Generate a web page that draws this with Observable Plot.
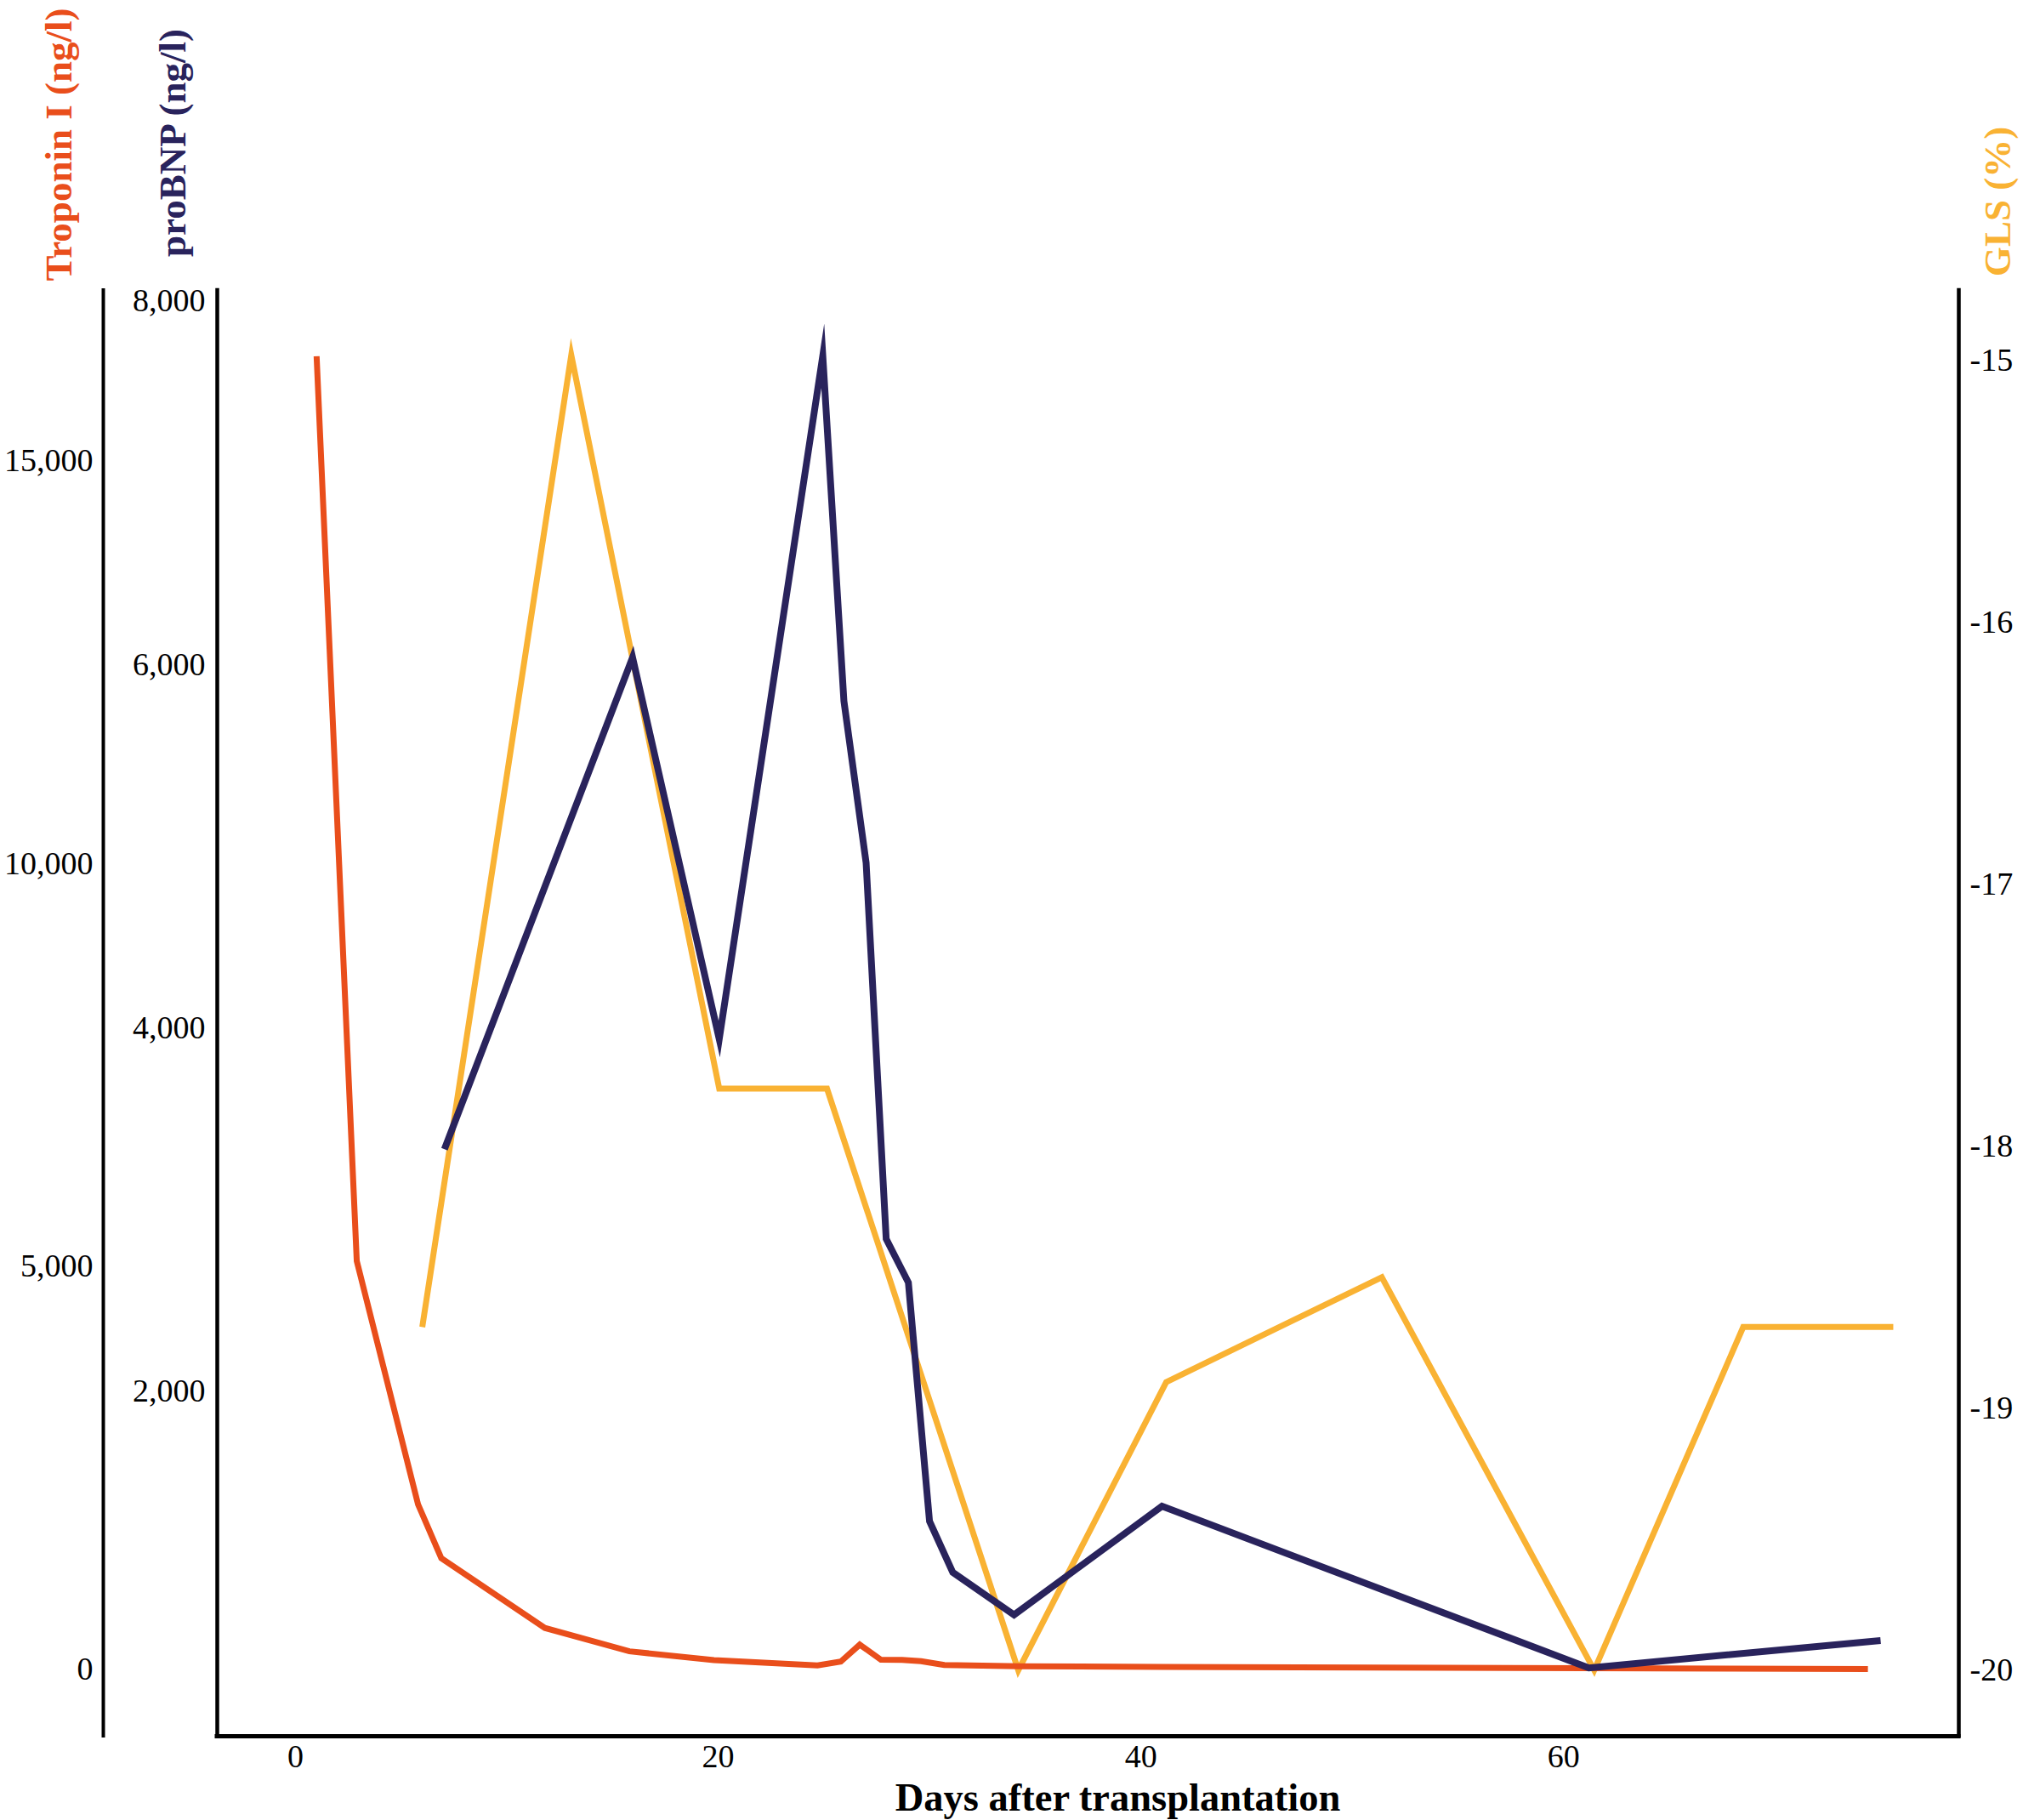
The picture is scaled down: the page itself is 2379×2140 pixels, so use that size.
<!DOCTYPE html>
<html>
<head>
<meta charset="utf-8">
<script src="https://cdn.jsdelivr.net/npm/d3@7"></script>
<script src="https://cdn.jsdelivr.net/npm/@observablehq/plot@0.6"></script>
<style>
  html, body { margin: 0; padding: 0; background: #ffffff; }
  #chart svg { display: block; }
</style>
</head>
<body>
<div id="chart"></div>
<script>
// ---- Data ----
const troponinDays   = [1, 2.9, 5.8, 6.9, 11.8, 15.8, 19.8, 24.7, 25.8, 26.7, 27.7, 28.7, 29.6, 30.7, 34.3, 41, 51, 61, 68, 74.4];
const troponinValues = [16300, 5070, 2050, 1380, 515, 225, 116, 50, 97, 308, 121, 118, 103, 55, 38, 32, 24, 16, 10, 5];

const probnpDays   = [7.05, 15.95, 20.05, 24.95, 25.95, 27.0, 27.95, 29.0, 30.0, 31.1, 34.0, 41.0, 61.2, 75.0];
const probnpValues = [3334, 6040, 3940, 7700, 5800, 4910, 2840, 2600, 1286, 1005, 771, 1369, 479, 630];

const glsDays   = [6, 13.05, 20.05, 25.15, 34.2, 41.2, 51.4, 61.45, 68.5, 75.6];
const glsValues = [-18.69, -14.98, -17.78, -17.78, -20, -18.9, -18.5, -20, -18.69, -18.69];

const xTicks        = [0, 20, 40, 60];
const troponinTicks = [0, 5000, 10000, 15000];
const probnpTicks   = [2000, 4000, 6000, 8000];
const glsTicks      = [-15, -16, -17, -18, -19, -20];

// ---- Scales ----
const xDomain    = [-3.7, 78.7];
const tropDomain = [-829, 17117];      // primary y scale (Troponin I)
const proDomain  = [103, 8060];        // proBNP over the same pixel range
const glsDomain  = [-20.252, -14.733]; // GLS over the same pixel range

const proToY = d3.scaleLinear().domain(proDomain).range(tropDomain);
const glsToY = d3.scaleLinear().domain(glsDomain).range(tropDomain);

const colors = { troponin: "#E94E1B", probnp: "#29235C", gls: "#F9B233" };

const troponin = troponinDays.map((d, i) => ({ day: d, v: troponinValues[i] }));
const probnp   = probnpDays.map((d, i) => ({ day: d, v: probnpValues[i] }));
const gls      = glsDays.map((d, i) => ({ day: d, v: glsValues[i] }));

const comma = d3.format(",");
const lineStyle = { strokeLinejoin: "miter", strokeMiterlimit: 10, strokeLinecap: "butt" };
const titleStyle = { fontSize: 45, fontWeight: "bold", textAnchor: "middle", lineAnchor: "middle" };

const chart = Plot.plot({
  width: 2379,
  height: 2140,
  marginLeft: 255,
  marginRight: 76,
  marginTop: 341,
  marginBottom: 99,
  style: {
    fontFamily: '"Liberation Serif", "Times New Roman", serif',
    fontSize: "38px",
    background: "#ffffff",
    color: "#000000"
  },
  x: { domain: xDomain, axis: null },
  y: { domain: tropDomain, axis: null },
  marks: [
    // frame: left, right and bottom lines
    Plot.ruleX(xDomain, { stroke: "#000", strokeWidth: 4.5, strokeLinecap: "square" }),
    Plot.ruleY([tropDomain[0]], { stroke: "#000", strokeWidth: 5, strokeLinecap: "square" }),
    // separate troponin axis line
    Plot.ruleX([xDomain[0]], { dx: -134, stroke: "#000", strokeWidth: 4, strokeLinecap: "square" }),

    // axes
    Plot.axisX(xTicks, { tickSize: 0, tickPadding: 10, tickFormat: d => String(d), label: null, fontSize: 38 }),
    Plot.axisY(troponinTicks, {
      anchor: "left", dx: -134, tickSize: 0, tickPadding: 12,
      tickFormat: d => comma(d), label: null, fontSize: 38
    }),
    Plot.axisY(probnpTicks.map(t => proToY(t)), {
      anchor: "left", tickSize: 0, tickPadding: 14,
      tickFormat: d => comma(Math.round(proToY.invert(d))), label: null, fontSize: 38
    }),
    Plot.axisY(glsTicks.map(t => glsToY(t)), {
      anchor: "right", tickSize: 0, tickPadding: 13,
      tickFormat: d => String(Math.round(glsToY.invert(d))), label: null, fontSize: 38
    }),

    // series
    Plot.line(gls, { x: "day", y: d => glsToY(d.v), stroke: colors.gls, strokeWidth: 7, ...lineStyle }),
    Plot.line(troponin, { x: "day", y: "v", stroke: colors.troponin, strokeWidth: 7, ...lineStyle }),
    Plot.line(probnp, { x: "day", y: d => proToY(d.v), stroke: colors.probnp, strokeWidth: 8, ...lineStyle }),

    // axis titles
    Plot.text(["Troponin I (ng/l)"], { frameAnchor: "top-left", dx: -186.4, dy: -171.5, rotate: -90, fill: colors.troponin, ...titleStyle }),
    Plot.text(["proBNP (ng/l)"], { frameAnchor: "top-left", dx: -52.4, dy: -173.5, rotate: -90, fill: colors.probnp, ...titleStyle }),
    Plot.text(["GLS (%)"], { frameAnchor: "top-right", dx: 45.6, dy: -104.5, rotate: -90, fill: colors.gls, ...titleStyle }),
    Plot.text(["Days after transplantation"], { frameAnchor: "bottom", dx: 35, dy: 73, fill: "#000", fontSize: 46.5, fontWeight: "bold", textAnchor: "middle", lineAnchor: "middle" })
  ]
});

document.getElementById("chart").append(chart);
</script>
</body>
</html>
